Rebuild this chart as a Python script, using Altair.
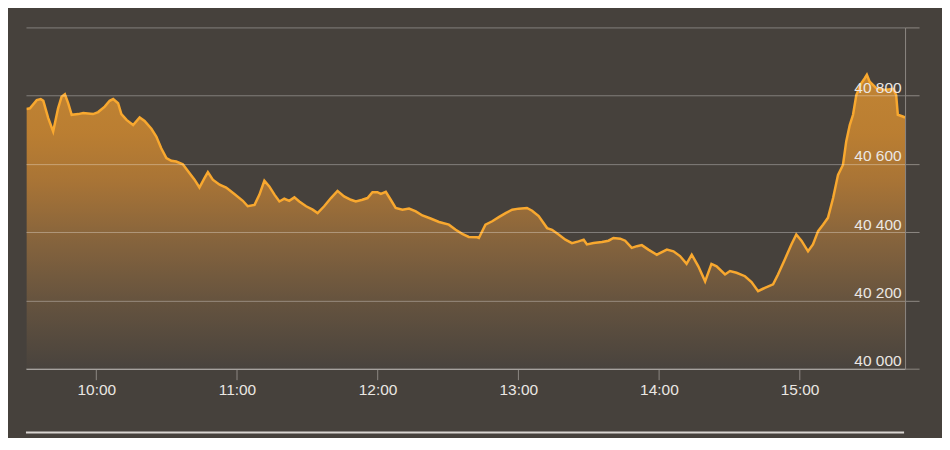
import altair as alt
import pandas as pd

# minutes after the 09:30 open
minutes = [0.3, 1.7, 4.6, 6.3, 7.4, 9.5, 11.6, 13.7, 15.2, 16.6, 18.0, 19.5, 22.3, 24.4, 28.6,
           30.8, 33.6, 35.7, 37.2, 39.3, 40.7, 42.9, 45.7, 48.5, 50.6, 53.5, 55.6, 57.7, 59.9,
           62.0, 64.1, 66.9, 69.8, 71.9, 74.0, 76.2, 77.6, 79.7, 82.6, 85.4, 88.9, 92.5,
           94.6, 97.5, 99.6, 101.7, 103.8, 106.0, 108.1, 110.2, 112.3, 114.5, 116.6, 119.5,
           122.3, 124.4, 127.2, 130.1, 132.9, 135.7, 138.6, 140.7, 143.5, 145.7, 147.8, 149.9,
           151.4, 153.5, 155.6, 157.7, 160.6, 163.4, 166.3, 169.1, 172.6, 176.2, 180.4, 183.3,
           186.1, 188.9, 192.5, 193.2,
           196.0, 198.9, 201.7, 204.6, 207.4, 210.2, 213.7, 215.9, 218.7, 222.3, 224.4, 227.2,
           230.1, 232.9, 235.7, 237.9, 239.3, 242.1, 245.7, 248.5, 250.6, 253.5, 255.6, 258.4,
           260.6, 262.7, 265.5, 269.1, 273.4, 276.2, 279.0, 281.8, 284.0, 286.8, 289.7,
           292.4, 294.6, 298.2, 300.3, 303.1, 306.7, 309.5, 312.3, 315.2, 318.7, 320.8, 323.7,
           326.5, 328.6, 330.8, 333.6, 335.7, 337.9, 340.0, 342.1, 344.3, 346.4, 348.5, 349.9,
           351.4, 352.8, 354.2, 356.3, 357.8, 358.7, 359.9, 362.7, 366.2, 369.8, 371.2, 371.9,
           374.0, 375.0]

values = [40761, 40763, 40787, 40790, 40785, 40734, 40695, 40763, 40797, 40804, 40778, 40744,
          40746, 40749, 40746, 40752, 40768, 40785, 40790, 40778, 40746, 40729, 40714, 40736,
          40726, 40703, 40680, 40646, 40617, 40609, 40607, 40599, 40573, 40554, 40531, 40559,
          40576, 40554, 40539, 40531, 40512, 40492,
          40476, 40480, 40510, 40551, 40534, 40510, 40490, 40498, 40492, 40502, 40490, 40476,
          40466, 40456, 40476, 40500, 40521, 40505, 40495, 40490, 40495, 40500, 40517, 40517,
          40512, 40518, 40495, 40471, 40466, 40469, 40461, 40449, 40440, 40430, 40422, 40407,
          40395, 40386, 40385, 40383,
          40422, 40432, 40444, 40456, 40466, 40469, 40471, 40463, 40447, 40412, 40407, 40393,
          40378, 40368, 40373, 40378, 40364, 40368, 40371, 40375, 40383, 40381, 40375, 40354,
          40359, 40362, 40349, 40334, 40349, 40344, 40330, 40307, 40334, 40300, 40256,
          40307, 40300, 40276, 40286, 40281, 40271, 40254, 40227, 40237, 40247, 40276, 40320,
          40364, 40393, 40375, 40344, 40364, 40403, 40422, 40442, 40500, 40568, 40597, 40666,
          40714, 40744, 40802, 40836, 40851, 40861, 40841, 40822, 40817, 40820, 40802, 40744,
          40739, 40736]

y_ticks = [40000, 40200, 40400, 40600, 40800, 41000]
x_tick_hours = [10, 11, 12, 13, 14, 15]
baseline_value = 40000

times = (pd.Timestamp("2024-06-03 09:30") + pd.to_timedelta(minutes, unit="m")).round("s")
df = pd.DataFrame({
    "time": times.strftime("%Y-%m-%dT%H:%M:%S"),
    "value": values,
})

BG = "#46413c"
LABEL = "#ebe7e3"
GRID = "#8d8883"


def dt(h, m=0):
    return alt.DateTime(year=2024, month=6, date=3, hours=h, minutes=m)


x_enc = alt.X(
    "time:T",
    scale=alt.Scale(domain=[dt(9, 30), dt(15, 45)]),
    axis=alt.Axis(
        format="%H:%M", values=[dt(h) for h in x_tick_hours], title=None,
        grid=False, domain=True, domainColor=GRID, domainWidth=1.5,
        ticks=True, tickColor=GRID, tickSize=11, labelPadding=3,
        labelFontSize=15.5, labelColor=LABEL, labelFont="Liberation Sans",
        labelFlush=False, labelOverlap=False,
    ),
)

y_enc = alt.Y(
    "value:Q",
    scale=alt.Scale(domain=[40000, 41000], nice=False, zero=False),
    axis=alt.Axis(
        orient="right", values=y_ticks, title=None, zindex=1,
        grid=True, gridColor="#ffffff", gridOpacity=0.33, gridWidth=1,
        domain=True, domainColor=GRID, domainWidth=1,
        ticks=True, tickColor=GRID, tickSize=14,
        labelAlign="right", labelPadding=-18, labelBaseline="alphabetic", labelOffset=-3,
        labelFontSize=15.5, labelColor=LABEL, labelFont="Liberation Sans",
        labelExpr="datum.value >= 41000 ? '' : replace(format(datum.value, ','), ',', ' ')",
    ),
)

area = alt.Chart(df).mark_area(
    color=alt.Gradient(
        gradient="linear",
        stops=[
            alt.GradientStop(color="#4a443e", offset=0),
            alt.GradientStop(color="#715a40", offset=0.22),
            alt.GradientStop(color="#a2733d", offset=0.44),
            alt.GradientStop(color="#d38a33", offset=0.64),
            alt.GradientStop(color="#ec982d", offset=0.8),
            alt.GradientStop(color="#f6a130", offset=1),
        ],
        x1=1, x2=1, y1=1, y2=0,
    ),
    line=alt.OverlayMarkDef(color="#f8a82f", strokeWidth=2.5),
    interpolate="linear",
).encode(x=x_enc, y=y_enc, y2=alt.datum(baseline_value))

rule = alt.Chart(pd.DataFrame({"a": [0]})).mark_rule(
    color="#d9d5d1", strokeWidth=2
).encode(x=alt.value(0), x2=alt.value(880), y=alt.value(406))

chart = alt.layer(area, rule).properties(
    width=881, height=342,
    padding={"left": 13, "top": 18, "right": 22, "bottom": 4},
    background=BG,
).configure_view(stroke=None)

chart.save("out.html", embed_options={"renderer": "svg", "actions": False})
